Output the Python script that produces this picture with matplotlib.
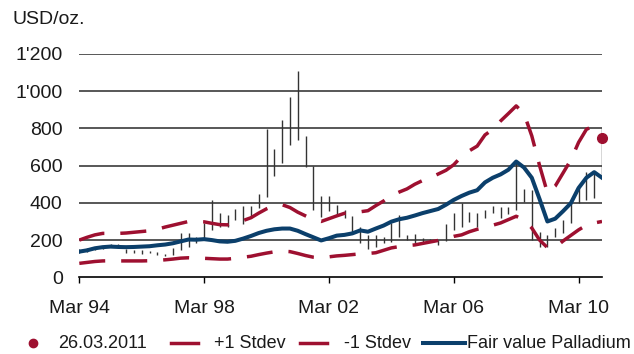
import matplotlib
matplotlib.use("Agg")
import matplotlib.pyplot as plt
from matplotlib.lines import Line2D

# quarterly observations, Mar 94 .. Dec 10 (68 quarters)
quarters = list(range(68))
tick_pos = [0, 16, 32, 48, 64]
tick_labels = ["Mar 94", "Mar 98", "Mar 02", "Mar 06", "Mar 10"]

y_ticks = [0, 200, 400, 600, 800, 1000, 1200]
y_labels = ["0", "200", "400", "600", "800", "1'000", "1'200"]

# quarterly price range (low / high), USD/oz.
price_low = [128, 135, 145, 150, 163, 165, 130, 130, 125, 130, 120, 115, 120, 147, 163, 184,
             200, 254, 270, 270, 308, 286, 318, 372, 431, 544, 614, 711, 738, 593, 362, 324,
             356, 335, 319, 243, 184, 152, 163, 184, 190, 216, 200, 184, 184, 195, 174, 195,
             254, 270, 297, 270, 319, 345, 318, 340, 362, 404, 200, 163, 163, 217, 238, 292,
             400, 415, 426, 548]
price_high = [150, 158, 165, 170, 178, 178, 152, 147, 147, 141, 136, 125, 158, 238, 238, 216,
              292, 415, 345, 335, 367, 383, 383, 448, 797, 690, 846, 970, 1110, 760, 598, 437,
              437, 389, 362, 330, 270, 227, 227, 216, 292, 335, 227, 233, 211, 206, 200, 286,
              345, 400, 351, 345, 362, 383, 378, 378, 620, 475, 470, 244, 227, 265, 308, 400,
              480, 566, 566, 800]

fair_value = [138, 145, 156, 162, 165, 163, 162, 163, 165, 167, 172, 176, 183, 193, 203, 202,
              205, 200, 193, 191, 196, 208, 222, 238, 250, 258, 262, 262, 250, 232, 215, 198,
              210, 224, 228, 236, 252, 245, 262, 278, 299, 312, 320, 332, 345, 356, 367, 390,
              416, 437, 455, 468, 510, 535, 553, 578, 622, 590, 535, 420, 300, 315, 355, 398,
              480, 535, 565, 535]
plus_stdev = [200, 215, 228, 236, 236, 236, 238, 242, 246, 250, 258, 270, 280, 290, 300, 300,
              298, 290, 283, 282, 295, 305, 320, 345, 368, 385, 390, 375, 350, 330, 310, 300,
              315, 330, 344, 350, 352, 358, 385, 410, 440, 458, 475, 500, 520, 535, 555, 575,
              605, 650, 680, 705, 765, 795, 840, 880, 921, 880, 760, 600, 455, 490, 560, 630,
              725, 795, 815, 805]
minus_stdev = [75, 80, 85, 88, 89, 88, 88, 88, 88, 89, 91, 94, 98, 103, 105, 103,
               102, 100, 98, 98, 102, 108, 113, 122, 130, 137, 140, 138, 128, 117, 108, 104,
               110, 115, 118, 122, 126, 128, 132, 145, 158, 165, 170, 174, 182, 190, 198, 208,
               220, 228, 245, 258, 268, 280, 292, 310, 328, 308, 265, 200, 160, 160, 195, 225,
               255, 280, 292, 300]

spot_label = "26.03.2011"
spot_value = 750

RED = "#9e1030"
BLUE = "#0b3f6b"
TXT = "#1a1a1a"

plt.rcParams["font.family"] = ["Liberation Sans", "DejaVu Sans"]
plt.rcParams["font.size"] = 14

fig = plt.figure(figsize=(6.34, 3.54), dpi=100)
ax = fig.add_axes([79.3 / 634, 1 - 277.3 / 354, (602 - 79.3) / 634, (277.3 - 54) / 354])

# grid lines
for v in y_ticks[1:]:
    ax.axhline(v, color="#4a4a4a", lw=1.3, zorder=1)

# high-low bars
ax.vlines(quarters, price_low, price_high, color="#333333", lw=1.0, zorder=2)

dash = (7.5, 4.6)
ax.plot(quarters, plus_stdev, color=RED, lw=2.5, dashes=dash, zorder=3)
ax.plot(quarters, minus_stdev, color=RED, lw=2.5, dashes=dash, zorder=3)
ax.plot(quarters, fair_value, color=BLUE, lw=2.9, zorder=4, solid_joinstyle="round")
ax.plot([quarters[-1]], [spot_value], "o", color=RED, ms=7, zorder=5, clip_on=False)

ax.set_xlim(0, 67)
ax.set_ylim(0, 1200)
for s in ["top", "right", "left"]:
    ax.spines[s].set_visible(False)
ax.spines["bottom"].set_color("black")
ax.spines["bottom"].set_linewidth(1.2)

ax.set_xticks(tick_pos)
ax.set_xticklabels(tick_labels, color=TXT)
ax.tick_params(axis="x", direction="out", length=4.5, width=1.0, color="black", pad=12)
ax.set_yticks(y_ticks)
ax.set_yticklabels(y_labels, color=TXT)
ax.tick_params(axis="y", length=0, pad=12)

fig.text(12 / 634, 1 - 20 / 354, "USD/oz.", color=TXT, va="center", ha="left")

# legend row
ly = 1 - 343 / 354
lfs = 13
fig.add_artist(Line2D([33 / 634], [ly], marker="o", color=RED, ms=6, lw=0))
fig.text(58 / 634, ly, spot_label, color=TXT, va="center", ha="left", fontsize=lfs)
fig.add_artist(Line2D([171 / 634, 198 / 634], [ly, ly], color=RED, lw=2.5))
fig.text(214 / 634, ly, "+1 Stdev", color=TXT, va="center", ha="left", fontsize=lfs)
fig.add_artist(Line2D([300 / 634, 327 / 634], [ly, ly], color=RED, lw=2.5))
fig.text(344 / 634, ly, "-1 Stdev", color=TXT, va="center", ha="left", fontsize=lfs)
fig.add_artist(Line2D([423 / 634, 465 / 634], [ly, ly], color=BLUE, lw=2.9))
fig.text(467 / 634, ly, "Fair value Palladium", color=TXT, va="center", ha="left", fontsize=lfs)

fig.savefig("out.png", dpi=100)
